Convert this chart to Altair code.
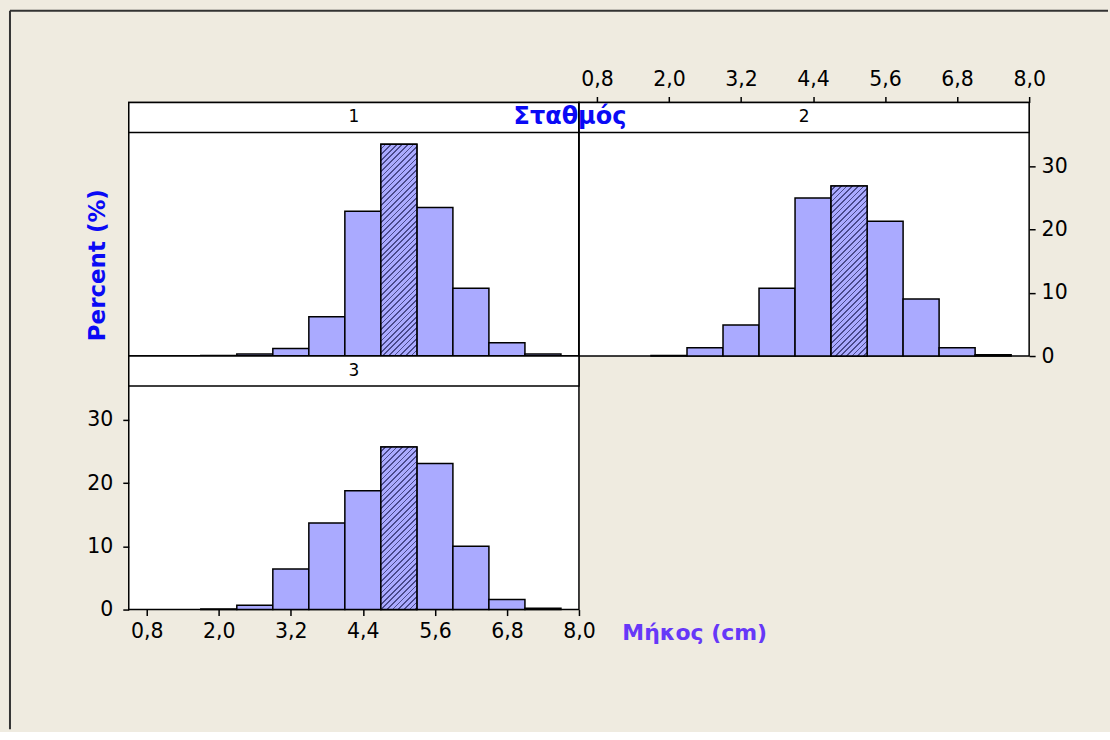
import math
import altair as alt
import pandas as pd

# ---- data ----
bin_centers = [2.0, 2.6, 3.2, 3.8, 4.4, 5.0, 5.6, 6.2, 6.8, 7.4]
bin_width = 0.6
pct_station1 = [0.1, 0.3, 1.2, 6.2, 22.9, 33.5, 23.5, 10.7, 2.1, 0.3]
pct_station2 = [0.1, 1.3, 4.9, 10.7, 25.0, 26.9, 21.3, 9.0, 1.3, 0.2]
pct_station3 = [0.1, 0.7, 6.4, 13.7, 18.8, 25.7, 23.1, 10.0, 1.6, 0.2]
station_labels = ["1", "2", "3"]
x_ticks = [0.8, 2.0, 3.2, 4.4, 5.6, 6.8, 8.0]
y_ticks = [0, 10, 20, 30]
highlight_center = 5.0

# ---- layout / style ----
PW, PH, STRIP = 451, 254, 30
X_DOM = [0.5, 8.0]
Y_DOM = [0, 40.1]
BG = "#EFEBE0"
BAR = "#AAAAFF"
HATCH = "#4A4A8C"
BLUE = "#0A0AF5"
PURPLE = "#6638F8"
FONT = "DejaVu Sans"
LBL = 20.5
FMT = "replace(format(datum.value, '.1f'), '.', ',')"


def hatch_fill(value):
    # diagonal "/" hatch made of hard gradient stops (bbox units)
    w = bin_width * PW / (X_DOM[1] - X_DOM[0])
    h = value * PH / (Y_DOM[1] - Y_DOM[0])
    den = w * w + h * h
    per = 4.0 * math.sqrt(2) * w / den
    lw = 1.2 * math.sqrt(2) * w / den
    tmax = w * (w + h) / den
    stops = []
    k = 0
    while k * per < tmax + per and (k + 1) * per <= 1.0:
        t0 = k * per
        t1 = t0 + per - lw
        t2 = t0 + per
        for off, col in [(t0, BAR), (t1, BAR), (t1, HATCH), (t2, HATCH)]:
            stops.append(alt.GradientStop(color=col, offset=off))
        k += 1
    return alt.LinearGradient(gradient="linear", x1=0, y1=0, x2=1, y2=h / w, stops=stops)


def x_axis(orient, pad):
    return alt.Axis(orient=orient, values=x_ticks, labelExpr=FMT, tickSize=6, tickWidth=1.5,
                    tickColor="black", domain=False, grid=False, labelFontSize=LBL,
                    labelColor="black", labelPadding=pad, labelFlush=False, labelOverlap=False,
                    title=None, labelFont=FONT)


def y_axis(orient, pad):
    return alt.Axis(orient=orient, values=y_ticks, format="d", tickSize=6, tickWidth=1.5,
                    tickColor="black", domain=False, grid=False, labelFontSize=LBL,
                    labelColor="black", labelPadding=pad, labelFlush=False, labelOverlap=False,
                    title=None, labelFont=FONT)


def panel(pcts, label, xax, yax, extras):
    df = pd.DataFrame({"center": bin_centers, "pct": pcts})
    df["start"] = df["center"] - bin_width / 2
    df["end"] = df["center"] + bin_width / 2
    base = alt.Chart(df)
    xenc = alt.X("start:Q", scale=alt.Scale(domain=X_DOM, nice=False, zero=False), axis=xax)
    yenc = alt.Y("pct:Q", scale=alt.Scale(domain=Y_DOM, nice=False), axis=yax, stack=None)
    bars = base.mark_bar(fill=BAR, stroke="black", strokeWidth=1.5).encode(
        x=xenc, x2="end:Q", y=yenc, y2=alt.datum(0))
    hv = float(df.loc[df["center"] == highlight_center, "pct"].iloc[0])
    hbar = base.transform_filter(alt.datum.center == highlight_center).mark_bar(
        fill=hatch_fill(hv), stroke="black", strokeWidth=1.5).encode(
        x="start:Q", x2="end:Q", y="pct:Q", y2=alt.datum(0))
    one = alt.Chart(pd.DataFrame({"label": [label]}))
    strip = one.mark_rect(fill="white", stroke="black", strokeWidth=1.5).encode(
        x=alt.value(0), x2=alt.value(PW), y=alt.value(0), y2=alt.value(STRIP))
    strip_text = one.mark_text(fontSize=17, font=FONT, color="black", align="center",
                               baseline="middle").encode(
        x=alt.value(PW / 2), y=alt.value(STRIP / 2), text="label:N")
    return alt.layer(bars, hbar, strip, strip_text, *extras).properties(width=PW, height=PH)


one_row = alt.Chart(pd.DataFrame({"a": [0]}))

# outer frame (top and left edges)
frame_top = one_row.mark_rule(color="#333333", strokeWidth=2).encode(
    x=alt.value(-119), x2=alt.value(981), y=alt.value(-92))
frame_left = one_row.mark_rule(color="#333333", strokeWidth=2).encode(
    x=alt.value(-119), y=alt.value(-92), y2=alt.value(628))
ytitle = one_row.mark_text(text="Percent (%)", angle=270, fontSize=23, fontWeight="bold",
                           font=FONT, color=BLUE, align="center", baseline="middle").encode(
    x=alt.value(-31), y=alt.value(163))
facet_title = one_row.mark_text(text="Σταθμός", fontSize=24, fontWeight="bold", font=FONT,
                                color=BLUE, align="center", baseline="middle").encode(
    x=alt.value(-9), y=alt.value(15))
divider = one_row.mark_rule(color="black", strokeWidth=1.5).encode(
    x=alt.value(0), y=alt.value(0), y2=alt.value(PH))
xtitle = one_row.mark_text(text="Μήκος (cm)", fontSize=22, fontWeight="bold", font=FONT,
                           color=PURPLE, align="center", baseline="middle").encode(
    x=alt.value(567), y=alt.value(277))

p1 = panel(pct_station1, station_labels[0], None, None, [frame_top, frame_left, ytitle])
p2 = panel(pct_station2, station_labels[1], x_axis("top", 7), y_axis("right", 6),
           [facet_title, divider])
p3 = panel(pct_station3, station_labels[2], x_axis("bottom", 6), y_axis("left", 10), [xtitle])

chart = alt.concat(p1, p2, p3, columns=2, spacing=0, bounds="flush").properties(
    background=BG,
    padding={"left": 8, "top": 8, "right": 0, "bottom": 0},
).configure(font=FONT).configure_view(stroke="black", strokeWidth=1.5, fill="white")

chart.save("out.html", embed_options={"renderer": "svg", "actions": False})
